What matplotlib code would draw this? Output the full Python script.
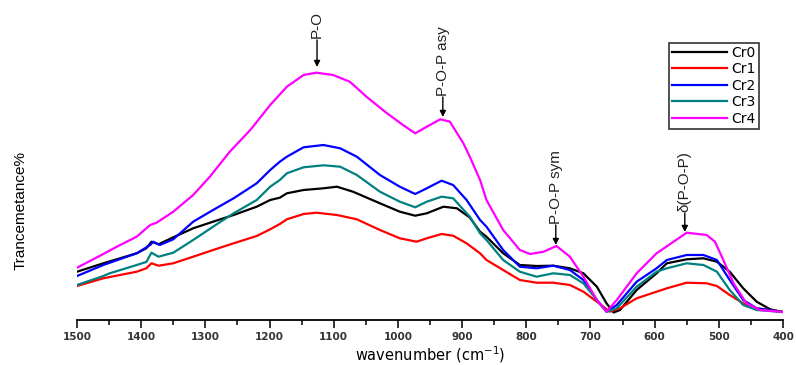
import matplotlib
matplotlib.use("Agg")
import matplotlib.pyplot as plt
from matplotlib.ticker import MultipleLocator

# ------------------------------
# Data (wavenumber cm-1, transmittance in arbitrary units)
# ------------------------------
wn_cr0 = [1500, 1459, 1433, 1407, 1392, 1384, 1373, 1350, 1319, 1288, 1256, 1220, 1199, 1184,
          1173, 1147, 1116, 1095, 1070, 1028, 997, 973, 955, 929, 908, 888, 872, 862, 836, 810,
          784, 758, 732, 711, 690, 675, 664, 654, 628, 597, 581, 550, 524, 503, 483, 462, 441,
          420, 400]
t_cr0 = [48.3, 56.7, 61.7, 66.7, 71.7, 78.3, 75.7, 82.7, 91.7, 98.3, 105, 113.3, 120, 122.3,
         126.7, 130, 131.7, 133.3, 128.3, 116.7, 108.3, 104.3, 106.7, 113.3, 111.7, 102.5, 88.3,
         83.3, 66.7, 55, 54, 54.3, 51.7, 46.7, 33.3, 16.7, 7.5, 10, 30, 46.7, 56.7, 60.7, 61.7,
         58.3, 48.3, 31.7, 18.3, 10.7, 8]

wn_cr1 = [1500, 1459, 1407, 1392, 1384, 1373, 1350, 1319, 1288, 1256, 1220, 1199, 1184, 1173,
          1147, 1127, 1095, 1064, 1028, 997, 971, 955, 932, 914, 893, 872, 862, 836, 810, 784,
          758, 732, 711, 690, 670, 654, 628, 597, 581, 550, 519, 503, 483, 462, 441, 400]
t_cr1 = [34, 41.7, 48.3, 51.7, 56.7, 54.3, 56.7, 63.3, 70, 76.7, 84, 90.7, 96, 100.7,
         106, 107.3, 105, 100.7, 90, 81.7, 78.3, 81.7, 86, 84.3, 76.7, 66.7, 60, 50, 40, 37.3,
         37.3, 35, 28.3, 18.3, 8.3, 11.7, 21.7, 28.3, 31.7, 37.3, 36.7, 34, 25, 16.7, 11.7, 8]

wn_cr2 = [1500, 1459, 1407, 1386, 1381, 1371, 1350, 1319, 1288, 1256, 1220, 1199, 1184, 1173,
          1147, 1116, 1090, 1064, 1028, 997, 973, 955, 932, 914, 893, 872, 862, 836, 810, 784,
          758, 732, 711, 690, 675, 659, 628, 597, 581, 550, 524, 503, 483, 462, 441, 400]
t_cr2 = [44, 55, 66.7, 75, 78.3, 75, 80.7, 98.3, 110, 121.7, 136.7, 150, 158.3, 163.3,
         172.7, 175, 171.7, 163.3, 145, 133.3, 126, 131.7, 139.3, 135, 120, 100, 93.3, 70, 53.3,
         51.7, 54.3, 50, 40, 20, 8.3, 15, 38.3, 51.7, 60, 65, 65, 60, 40, 20, 11.7, 8]

wn_cr3 = [1500, 1459, 1449, 1407, 1392, 1384, 1373, 1350, 1319, 1288, 1256, 1220, 1199, 1184,
          1173, 1147, 1116, 1090, 1064, 1028, 997, 973, 955, 932, 914, 888, 872, 862, 836, 810,
          784, 758, 732, 711, 690, 675, 659, 628, 597, 581, 550, 524, 503, 483, 462, 441, 400]
t_cr3 = [35, 44, 46.7, 55, 58, 67.3, 63.3, 67.3, 80, 93.3, 106.7, 120, 133.3, 140,
         146.7, 152.7, 154.7, 153.3, 145, 128.3, 118.3, 112.7, 118.3, 123.3, 121.7, 103.3, 86.7,
         80, 60, 48.3, 43.3, 46.7, 45, 36.7, 20, 8.3, 11.7, 33.3, 48.3, 51.7, 56.7, 55, 48.3,
         30, 15, 10, 8]

wn_cr4 = [1500, 1459, 1438, 1407, 1386, 1376, 1350, 1319, 1293, 1262, 1230, 1199, 1173, 1147,
          1127, 1101, 1075, 1049, 1017, 992, 973, 955, 934, 919, 898, 888, 872, 862, 836, 810,
          794, 773, 753, 732, 711, 690, 675, 659, 628, 597, 550, 519, 506, 493, 477, 457, 436,
          400]
t_cr4 = [52.3, 66, 73.3, 83.3, 95, 97.3, 108.3, 125, 143.3, 168.3, 190, 215, 233.3, 245,
         247.3, 245, 238.3, 223.3, 206.7, 195, 186.7, 193.3, 200.7, 198.3, 176.7, 163.3, 140,
         120, 90, 70, 66, 68.3, 74, 63.3, 43.3, 20, 8.3, 20, 46.7, 66.7, 87.3, 85, 78.3, 60,
         36.7, 16.7, 10, 8]

labels = ["Cr0", "Cr1", "Cr2", "Cr3", "Cr4"]
colors = ["black", "#ff0000", "#0000ff", "#008080", "#ff00ff"]

# band assignments: label, wavenumber, arrow tip, arrow tail
bands = [("P-O", 1126, 253, 280),
         ("P-O-P asy", 930, 203, 223),
         ("P-O-P sym", 754, 75, 95),
         ("δ(P-O-P)", 553, 88, 107)]

ARIAL = ["Liberation Sans", "DejaVu Sans"]

# ------------------------------
# Plot
# ------------------------------
fig = plt.figure(figsize=(7.96, 3.65), dpi=100)
ax = fig.add_axes([77 / 796, 45 / 365, 706 / 796, 320 / 365])

series = [(wn_cr0, t_cr0), (wn_cr1, t_cr1), (wn_cr2, t_cr2), (wn_cr3, t_cr3), (wn_cr4, t_cr4)]
for (x, y), lab, c in zip(series, labels, colors):
    ax.plot(x, y, color=c, lw=1.6, label=lab)

for name, xw, tip, tail in bands:
    ax.annotate("", xy=(xw, tip), xytext=(xw, tail),
                arrowprops=dict(arrowstyle="-|>", color="black", lw=1, mutation_scale=9,
                                shrinkA=0, shrinkB=0))
    ax.text(xw, tail + 1.5, name, rotation=90, ha="center", va="bottom",
            fontsize=11, family=ARIAL, color="#222222")

ax.set_xlim(1500, 400)
ax.set_ylim(0, 320)

for s in ["left", "top", "right"]:
    ax.spines[s].set_visible(False)
ax.spines["bottom"].set_linewidth(1.3)
ax.set_yticks([])

ax.xaxis.set_major_locator(MultipleLocator(100))
ax.xaxis.set_minor_locator(MultipleLocator(50))
ax.tick_params(axis="x", which="major", direction="out", length=6, width=1.1, pad=3)
ax.tick_params(axis="x", which="minor", direction="out", length=3.5, width=1.1)
for lbl in ax.get_xticklabels():
    lbl.set_fontsize(7.5)
    lbl.set_fontweight("bold")
    lbl.set_color("#333333")

fig.text(430 / 796, 1 - 355 / 365, "wavenumber (cm$^{-1}$)", ha="center", va="center",
         fontsize=10.5)
fig.text(21 / 796, 1 - 210 / 365, "Trancemetance%", rotation=90, ha="center", va="center",
         fontsize=11, family=ARIAL)

leg = ax.legend(loc="upper left", bbox_to_anchor=(669 / 796, 1 - 43 / 365),
                bbox_transform=fig.transFigure, fontsize=10, frameon=True, fancybox=False,
                borderpad=0.2, borderaxespad=0, handlelength=4.0, handletextpad=0.3,
                labelspacing=0.18)
leg.get_frame().set_edgecolor("black")
leg.get_frame().set_linewidth(1.2)

fig.savefig("out.png", dpi=100)
